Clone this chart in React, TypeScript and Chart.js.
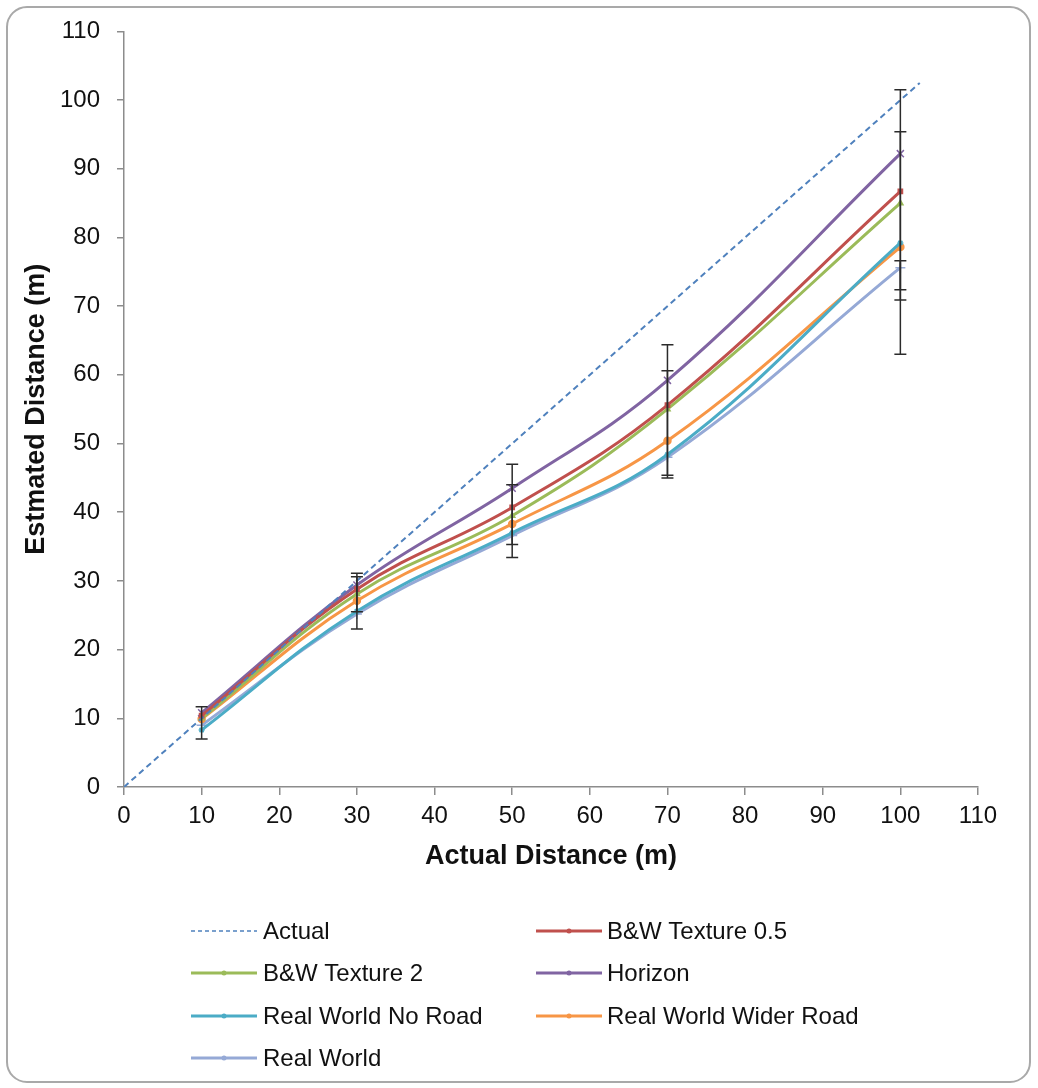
import React, { useEffect, useRef } from "react";
import { Chart, registerables } from "chart.js";

Chart.register(...registerables);

// ---- data ----
const xValues = [10, 30, 50, 70, 100];
const actualX = [0, 102.5];
const bwTexture05 = [10.4, 28.8, 40.7, 55.6, 86.7];
const bwTexture2 = [10.0, 28.1, 39.5, 55.0, 85.0];
const horizon = [10.8, 29.4, 43.5, 59.2, 92.2];
const realWorldNoRoad = [8.3, 25.6, 37.0, 48.4, 79.2];
const realWorldWiderRoad = [9.9, 27.1, 38.3, 50.4, 78.6];
const realWorld = [9.0, 25.2, 36.6, 48.0, 75.6];

const errorX = [10, 30, 30, 50, 50, 70, 70, 100, 100, 100];
const errorLow = [7.0, 23.0, 25.5, 33.4, 35.3, 45.0, 45.4, 63.0, 70.9, 72.4];
const errorHigh = [11.7, 31.1, 30.6, 47.0, 44.0, 64.4, 60.6, 101.5, 95.4, 76.6];

const yTicks = [0, 10, 20, 30, 40, 50, 60, 70, 80, 90, 100, 110];
const xTicks = [0, 10, 20, 30, 40, 50, 60, 70, 80, 90, 100, 110];

const seriesNames = [
  "Actual",
  "B&W Texture 0.5",
  "B&W Texture 2",
  "Horizon",
  "Real World No Road",
  "Real World Wider Road",
  "Real World",
];
const seriesColors = ["#4F81BD", "#C0504D", "#9BBB59", "#8064A2", "#4BACC6", "#F79646", "#95A9D6"];

const FONT = "'Liberation Sans', Arial, sans-serif";

const toPoints = (ys: number[]) => ys.map((y, i) => ({ x: xValues[i], y }));

const framePlugin = {
  id: "frame",
  beforeDraw(chart: any) {
    const ctx = chart.ctx;
    ctx.save();
    ctx.fillStyle = "#ffffff";
    ctx.fillRect(0, 0, chart.width, chart.height);
    ctx.strokeStyle = "#A9A9A9";
    ctx.lineWidth = 2;
    ctx.beginPath();
    (ctx as any).roundRect(7, 7, 1023, 1075, 20);
    ctx.stroke();
    ctx.restore();
  },
};

const errorBarPlugin = {
  id: "errorBars",
  afterDatasetsDraw(chart: any) {
    const ctx = chart.ctx;
    const xs = chart.scales.x;
    const ys = chart.scales.y;
    ctx.save();
    ctx.strokeStyle = "#2b2b2b";
    ctx.lineWidth = 1.5;
    for (let i = 0; i < errorX.length; i++) {
      const px = xs.getPixelForValue(errorX[i]);
      const lo = ys.getPixelForValue(errorLow[i]);
      const hi = ys.getPixelForValue(errorHigh[i]);
      ctx.beginPath();
      ctx.moveTo(px, lo);
      ctx.lineTo(px, hi);
      ctx.moveTo(px - 6, lo);
      ctx.lineTo(px + 6, lo);
      ctx.moveTo(px - 6, hi);
      ctx.lineTo(px + 6, hi);
      ctx.stroke();
    }
    ctx.restore();
  },
};

const legendPlugin = {
  id: "customLegend",
  afterDraw(chart: any) {
    const ctx = chart.ctx;
    const colLineStart = [191, 536];
    const colLineEnd = [257, 602];
    const colText = [263, 607];
    const rows = [931, 973, 1016, 1058];
    ctx.save();
    ctx.font = `24px ${FONT}`;
    ctx.textBaseline = "middle";
    ctx.textAlign = "left";
    chart.data.datasets.forEach((ds: any, i: number) => {
      const r = Math.floor(i / 2);
      const c = i % 2;
      const y = rows[r];
      ctx.strokeStyle = ds.borderColor;
      if (i === 0) {
        ctx.lineWidth = 1.5;
        ctx.setLineDash([4, 3]);
      } else {
        ctx.lineWidth = 3;
        ctx.setLineDash([]);
      }
      ctx.beginPath();
      ctx.moveTo(colLineStart[c], y);
      ctx.lineTo(colLineEnd[c], y);
      ctx.stroke();
      ctx.setLineDash([]);
      if (i > 0) {
        ctx.fillStyle = ds.borderColor;
        ctx.beginPath();
        ctx.arc((colLineStart[c] + colLineEnd[c]) / 2, y, 2.5, 0, Math.PI * 2);
        ctx.fill();
      }
      ctx.fillStyle = "#111111";
      ctx.fillText(ds.label, colText[c], y + 1);
    });
    ctx.restore();
  },
};

export default function App() {
  const ref = useRef<HTMLCanvasElement | null>(null);

  useEffect(() => {
    document.body.style.margin = "0";
    const canvas = ref.current;
    if (!canvas) return;

    const lineDs = (idx: number, ys: number[], pointStyle: string, radius: number) => ({
      label: seriesNames[idx],
      data: toPoints(ys),
      borderColor: seriesColors[idx],
      backgroundColor: seriesColors[idx],
      borderWidth: 3,
      pointStyle,
      pointRadius: radius,
      pointBorderWidth: 1.5,
      pointHoverRadius: radius,
      tension: 0.4,
      fill: false,
    });

    const chart = new Chart(canvas, {
      type: "line",
      data: {
        datasets: [
          {
            label: seriesNames[0],
            data: actualX.map((v) => ({ x: v, y: v })),
            borderColor: seriesColors[0],
            backgroundColor: seriesColors[0],
            borderWidth: 2,
            borderDash: [6, 4],
            pointRadius: 0,
            tension: 0,
            fill: false,
          },
          lineDs(1, bwTexture05, "rect", 3),
          lineDs(2, bwTexture2, "triangle", 3),
          lineDs(3, horizon, "crossRot", 5),
          lineDs(4, realWorldNoRoad, "star", 3),
          lineDs(5, realWorldWiderRoad, "circle", 3.5),
          lineDs(6, realWorld, "cross", 5),
        ] as any,
      },
      options: {
        responsive: false,
        animation: false,
        events: [],
        layout: { padding: { left: 0, top: 27, right: 60, bottom: 201 } },
        plugins: {
          legend: { display: false },
          tooltip: { enabled: false },
        },
        scales: {
          x: {
            type: "linear",
            min: 0,
            max: 110,
            afterFit(scale: any) {
              scale.height = 100;
            },
            afterBuildTicks(scale: any) {
              scale.ticks = xTicks.map((v) => ({ value: v }));
            },
            grid: {
              display: true,
              drawOnChartArea: false,
              drawTicks: true,
              tickLength: 8,
              color: "#8C8C8C",
              lineWidth: 1.5,
            },
            border: { display: true, color: "#8C8C8C", width: 1.5 },
            ticks: {
              font: { family: FONT, size: 24 },
              color: "#111111",
              padding: 7,
              maxRotation: 0,
              autoSkip: false,
            },
            title: {
              display: true,
              text: "Actual Distance (m)",
              font: { family: FONT, size: 27, weight: "bold" },
              color: "#111111",
              padding: { top: 0, bottom: 14 },
            },
          },
          y: {
            type: "linear",
            min: 0,
            max: 110,
            afterFit(scale: any) {
              scale.width = 124;
            },
            afterBuildTicks(scale: any) {
              scale.ticks = yTicks.map((v) => ({ value: v }));
            },
            grid: {
              display: true,
              drawOnChartArea: false,
              drawTicks: true,
              tickLength: 7,
              color: "#8C8C8C",
              lineWidth: 1.5,
            },
            border: { display: true, color: "#8C8C8C", width: 1.5 },
            ticks: {
              font: { family: FONT, size: 24 },
              color: "#111111",
              padding: 17,
              autoSkip: false,
            },
            title: {
              display: true,
              text: "Estmated Distance (m)",
              font: { family: FONT, size: 27, weight: "bold" },
              color: "#111111",
              padding: { top: 20, bottom: 0 },
            },
          },
        },
      } as any,
      plugins: [framePlugin, errorBarPlugin, legendPlugin],
    });

    return () => {
      chart.destroy();
    };
  }, []);

  return (
    <div style={{ width: 1038, height: 1088 }}>
      <canvas ref={ref} width={1038} height={1088} style={{ display: "block" }} />
    </div>
  );
}
